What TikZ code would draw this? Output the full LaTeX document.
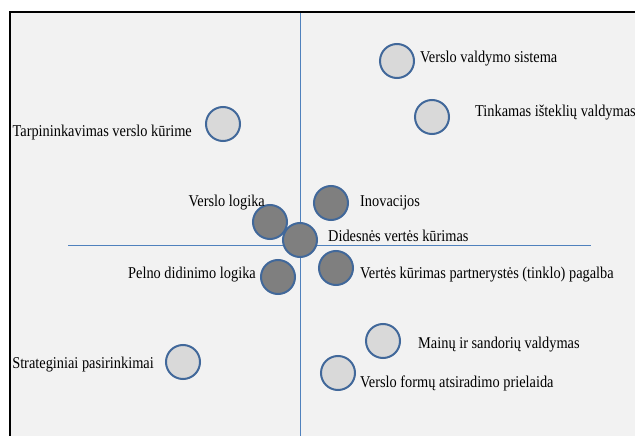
\documentclass[tikz,border=0pt]{standalone}
\usepackage{fontspec}
\setmainfont[FakeStretch=0.87]{Liberation Serif}
\definecolor{bg}{HTML}{F2F2F2}
\definecolor{axis}{HTML}{4F81BD}
\definecolor{ring}{HTML}{41689A}
\definecolor{light}{HTML}{D9D9D9}
\definecolor{dark}{HTML}{7F7F7F}
\begin{document}
\begin{tikzpicture}[x=1pt,y=-1pt,
  lbl/.style={inner sep=0pt,font=\fontsize{16.5}{18}\selectfont},
  bub/.style={circle,draw=ring,line width=2pt,minimum size=34pt,inner sep=0pt},
  lightbub/.style={bub,fill=light},
  darkbub/.style={bub,fill=dark}]
\useasboundingbox (0,0) rectangle (635,436);
\fill[white] (0,0) rectangle (635,436);
\fill[bg] (10,12) rectangle (635,436);
\draw[line width=2pt,black] (10,437) -- (10,12) -- (636,12);
\coordinate (vt) at (300,13);
\coordinate (vb) at (300,436);
\coordinate (hl) at (68,245);
\coordinate (hr) at (591,245);
\draw[axis,line width=1pt] (vt) -- (vb);
\draw[axis,line width=1pt] (hl) -- (hr);
% light bubbles
\node[lightbub] (c1) at (397,61) {};
\node[lbl,anchor=base west] (l1) at (420,63) {Verslo valdymo sistema};
\node[lightbub] (c2) at (432,117) {};
\node[lbl,anchor=base west] (l2) at (475,117) {Tinkamas išteklių valdymas};
\node[lightbub] (c3) at (223,124) {};
\node[lbl,anchor=base east] (l3) at (192,136) {Tarpininkavimas verslo kūrime};
\node[lightbub] (c4) at (383,341) {};
\node[lbl,anchor=base west] (l4) at (418,348) {Mainų ir sandorių valdymas};
\node[lightbub] (c5) at (338,373) {};
\node[lbl,anchor=base west] (l5) at (360,387) {Verslo formų atsiradimo prielaida};
\node[lightbub] (c6) at (183,362) {};
\node[lbl,anchor=base east] (l6) at (154,368) {Strateginiai pasirinkimai};
% dark bubbles
\node[darkbub] (c7) at (270,222) {};
\node[lbl,anchor=base east] (l7) at (265,206) {Verslo logika};
\node[darkbub] (c8) at (331,203) {};
\node[lbl,anchor=base west] (l8) at (360,206) {Inovacijos};
\node[darkbub] (c9) at (300,240) {};
\node[lbl,anchor=base west] (l9) at (328,241) {Didesnės vertės kūrimas};
\node[darkbub] (c10) at (278,277) {};
\node[lbl,anchor=base east] (l10) at (256,278) {Pelno didinimo logika};
\node[darkbub] (c11) at (336,268) {};
\node[lbl,anchor=base west] (l11) at (360,278) {Vertės kūrimas partnerystės (tinklo) pagalba};
\end{tikzpicture}
\end{document}
